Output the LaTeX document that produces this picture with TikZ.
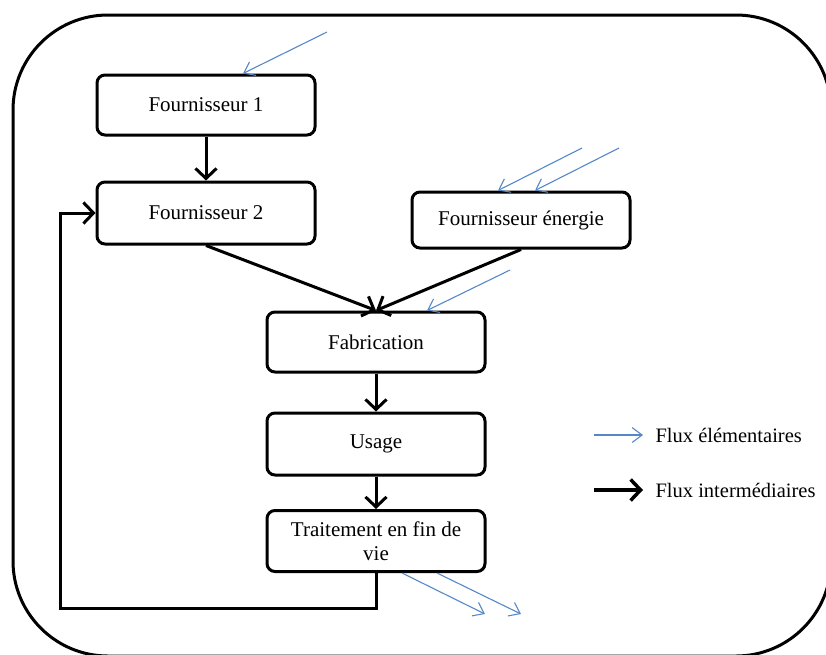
\documentclass[tikz,border=0pt]{standalone}
\usepackage{fontspec}
\setmainfont{Liberation Serif}
\usetikzlibrary{arrows.meta,calc}

\begin{document}
\begin{tikzpicture}[x=1pt,y=-1pt,
        boite/.style={draw,line width=3pt,rounded corners=8pt,minimum width=218pt,
            align=center,font=\fontsize{21}{24}\selectfont},
        inter/.style={line width=3pt,-{Straight Barb[length=10pt,width=21pt]}},
        elem/.style={bleu,line width=1.1pt,-{Straight Barb[length=10pt,width=15pt]}}]
        %couleurs
        \definecolor{bleu}{RGB}{86,136,200}

        \useasboundingbox (0,0) rectangle (826,654);
        % cadre exterieur
        \begin{scope}
            \clip (0,0) rectangle (826,654);
            \draw[line width=3pt,rounded corners=95pt] (13,15) rectangle (831,656);
        \end{scope}

        % etapes
        \node[boite,minimum height=60pt] (f1) at (206,105) {Fournisseur 1};
        \node[boite,minimum height=62pt] (f2) at (206,213) {Fournisseur 2};
        \node[boite,minimum height=56pt] (fe) at (521,220) {Fournisseur énergie};
        \node[boite,minimum height=60pt] (fab) at (376,342) {Fabrication};
        \node[boite,minimum height=62pt] (us) at (376,444) {Usage};
        \node[boite,minimum height=61pt] (tr) at (376,541) {Traitement en fin de\\vie};

        % flux intermediaires
        \draw[inter] (f1) -- (f2);
        \draw[inter] (f2.south) -- (fab.north);
        \draw[inter] (fe.south) -- (fab.north);
        \draw[inter] (fab) -- (us);
        \draw[inter] (us) -- (tr);
        \coordinate (retour) at (60,608);
        \draw[inter] (tr.south) |- (retour) |- (f2.west);

        % flux elementaires
        \coordinate (e1) at (327,32);
        \coordinate (e2) at (582,148);
        \coordinate (e3) at (619,148);
        \coordinate (e4) at (510,270);
        \coordinate (s1) at (485,614);
        \coordinate (s2) at (521,614);
        \draw[elem] (e1) -- ($(f1.north)+(37,0)$);
        \draw[elem] (e2) -- ($(fe.north)+(-23,0)$);
        \draw[elem] (e3) -- ($(fe.north)+(14,0)$);
        \draw[elem] (e4) -- ($(fab.north)+(51,0)$);
        \draw[elem] ($(tr.south)+(26,0)$) -- (s1);
        \draw[elem] ($(tr.south)+(61,0)$) -- (s2);

        % legende
        \node[anchor=west,font=\fontsize{20.5}{24}\selectfont] (lgelem) at (652,435) {Flux élémentaires};
        \node[anchor=west,font=\fontsize{20.5}{24}\selectfont] (lginter) at (652,490) {Flux intermédiaires};
        \coordinate (l1) at (594,435);
        \coordinate (l2) at (594,490);
        \draw[elem,shorten >=9pt] (l1) -- (lgelem.west);
        \draw[inter,line width=3.5pt,shorten >=9pt] (l2) -- (lginter.west);
    \end{tikzpicture}
\end{document}
